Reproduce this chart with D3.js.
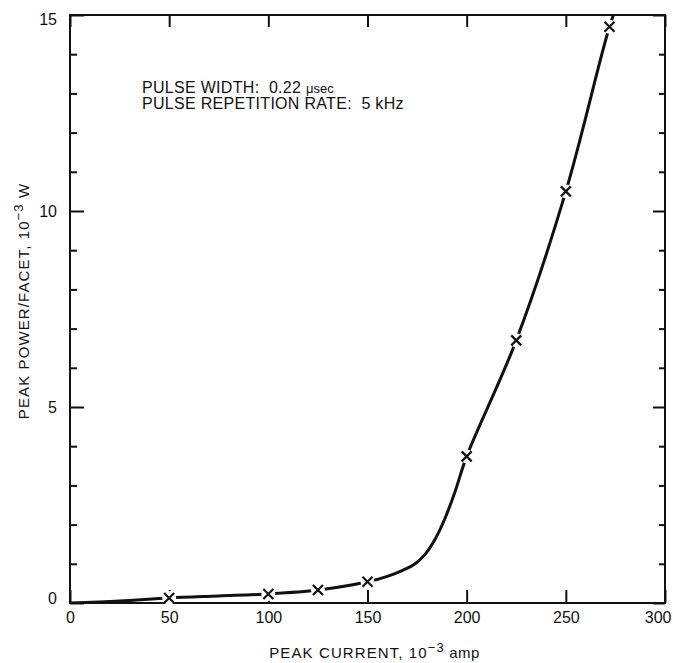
<!DOCTYPE html>
<html>
<head>
<meta charset="utf-8">
<script src="https://cdn.jsdelivr.net/npm/d3@7"></script>
<style>
  body { margin: 0; background: #fff; }
  text { font-family: "Liberation Sans", Arial, sans-serif; fill: #111; }
  .axis text { font-size: 16px; }
  .axis path { display: none; }
  .axis line { stroke: #111; stroke-width: 2; }
  .title { font-size: 15px; letter-spacing: 1.1px; }
  .note { font-size: 16px; letter-spacing: 0.3px; white-space: pre; }
</style>
</head>
<body>
<div id="chart"></div>
<script>
// размеры окна 673x663
const W = 673, H = 663;
const margin = { top: 15, right: 8, bottom: 60, left: 70 },
      width = W - margin.left - margin.right,
      height = H - margin.top - margin.bottom;

// данные
const curveCurrent = [0, 25, 50, 75, 100, 125, 150, 160, 168, 174, 179, 184, 189, 194, 200, 225, 250, 272, 277];
const curvePower   = [0, 0.05, 0.13, 0.18, 0.23, 0.33, 0.54, 0.68, 0.84, 1.0, 1.24, 1.62, 2.15, 2.82, 3.74, 6.7, 10.5, 14.7, 15.4];
const markCurrent  = [50, 100, 125, 150, 200, 225, 250, 272];
const markPower    = [0.13, 0.23, 0.33, 0.54, 3.74, 6.7, 10.5, 14.7];
const xTicks = [0, 50, 100, 150, 200, 250, 300];
const yTicks = [0, 5, 10, 15];
const yMinor = d3.range(0, 16, 1);

const svg = d3.select("#chart").append("svg")
  .attr("width", W).attr("height", H)
  .append("g")
  .attr("transform", `translate(${margin.left},${margin.top})`);

const x = d3.scaleLinear().domain([0, 300]).range([0, width]);
const y = d3.scaleLinear().domain([0, 15]).range([height, 0]);

// оси (засечки внутрь)
const xAxisG = svg.append("g").attr("class", "axis")
  .attr("transform", `translate(0,${height})`)
  .call(d3.axisBottom(x).tickValues(xTicks).tickSize(-13).tickSizeOuter(0).tickPadding(9));
// последняя подпись "300" сдвинута влево, как на оригинале
xAxisG.selectAll(".tick text").filter(d => d === 300)
  .attr("text-anchor", "end").attr("dx", 6);

svg.append("g").attr("class", "axis")
  .call(d3.axisTop(x).tickValues(xTicks).tickSize(-12).tickSizeOuter(0).tickFormat(""));

svg.append("g").attr("class", "axis")
  .call(d3.axisLeft(y).tickValues(yMinor.filter(d => d % 5)).tickSize(-7).tickSizeOuter(0).tickFormat(""));

const yAxisG = svg.append("g").attr("class", "axis")
  .call(d3.axisLeft(y).tickValues(yTicks).tickSize(-14).tickSizeOuter(0).tickPadding(13));
yAxisG.selectAll(".tick text").filter(d => d === 0).attr("dy", "0.0em");
yAxisG.selectAll(".tick text").filter(d => d === 15).attr("dy", "0.62em");

svg.append("g").attr("class", "axis")
  .attr("transform", `translate(${width},0)`)
  .call(d3.axisRight(y).tickValues(yMinor.filter(d => d % 5)).tickSize(-6).tickSizeOuter(0).tickFormat(""));

svg.append("g").attr("class", "axis")
  .attr("transform", `translate(${width},0)`)
  .call(d3.axisRight(y).tickValues(yTicks).tickSize(-12).tickSizeOuter(0).tickFormat(""));

// рамка
svg.append("rect")
  .attr("width", width).attr("height", height)
  .attr("fill", "none").attr("stroke", "#111").attr("stroke-width", 2);

// обрезка по области графика
svg.append("clipPath").attr("id", "clip")
  .append("rect").attr("width", width).attr("height", height);

// кривая
const curveData = curveCurrent.map((c, i) => ({ c: c, p: curvePower[i] }));
const line = d3.line()
  .x(d => x(d.c))
  .y(d => y(d.p))
  .curve(d3.curveCatmullRom.alpha(0.5));

svg.append("path")
  .datum(curveData)
  .attr("clip-path", "url(#clip)")
  .attr("d", line)
  .attr("fill", "none")
  .attr("stroke", "#111")
  .attr("stroke-width", 3);

// маркеры-крестики с белым ореолом
const marks = markCurrent.map((c, i) => ({ c: c, p: markPower[i] }));
const s = 5;
const cross = d => `M${x(d.c) - s},${y(d.p) - s}L${x(d.c) + s},${y(d.p) + s}M${x(d.c) - s},${y(d.p) + s}L${x(d.c) + s},${y(d.p) - s}`;

svg.append("g").selectAll("circle")
  .data(marks).join("circle")
  .attr("cx", d => x(d.c)).attr("cy", d => y(d.p))
  .attr("r", 7).attr("fill", "#fff");

svg.append("g").selectAll("path")
  .data(marks).join("path")
  .attr("d", cross)
  .attr("stroke", "#111").attr("stroke-width", 2.2).attr("fill", "none");

// подписи осей
const xl = svg.append("text")
  .attr("class", "title")
  .attr("x", width / 2 + 7)
  .attr("y", height + 55)
  .attr("text-anchor", "middle");
xl.append("tspan").text("PEAK CURRENT, 10");
xl.append("tspan").attr("dy", -6).style("font-size", "13px").text("−3");
xl.append("tspan").attr("dy", 6).style("letter-spacing", "0.4px").text(" amp");

const yl = svg.append("text")
  .attr("class", "title")
  .attr("transform", "rotate(-90)")
  .attr("x", -height / 2 + 8)
  .attr("y", -margin.left + 29)
  .attr("text-anchor", "middle");
yl.append("tspan").text("PEAK POWER/FACET, 10");
yl.append("tspan").attr("dy", -6).style("font-size", "13px").text("−3");
yl.append("tspan").attr("dy", 6).text(" W");

// примечание
const note = svg.append("text")
  .attr("class", "note")
  .attr("x", 72)
  .attr("y", 78);
note.append("tspan").text("PULSE WIDTH:  0.22 ");
note.append("tspan").style("font-size", "13px").style("letter-spacing", "0px").text("μsec");
note.append("tspan").attr("x", 72).attr("dy", 16).text("PULSE REPETITION RATE:  5 kHz");
</script>
</body>
</html>
